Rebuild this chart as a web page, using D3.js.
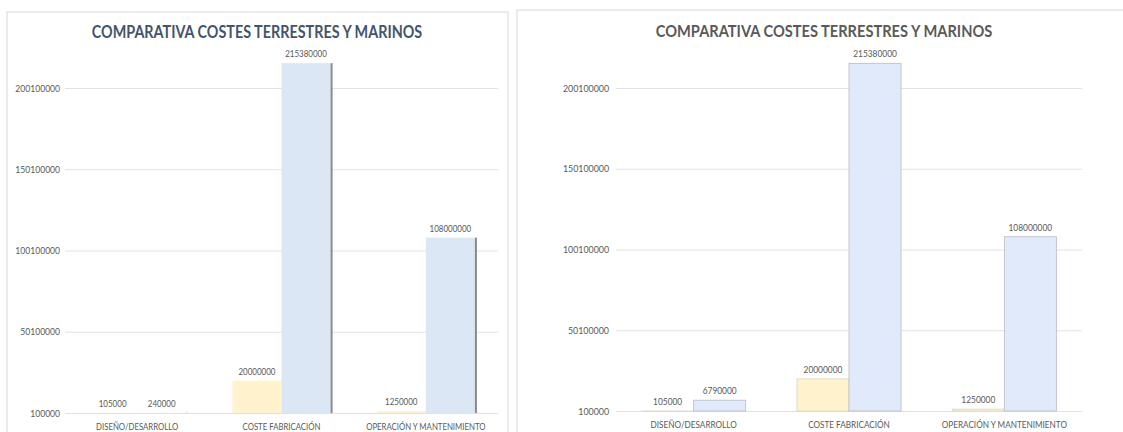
<!DOCTYPE html>
<html>
<head>
<meta charset="utf-8">
<script src="https://cdn.jsdelivr.net/npm/d3@7"></script>
<style>
  html, body { margin: 0; padding: 0; background: #ffffff; }
  svg { display: block; }
</style>
</head>
<body>
<svg id="chart" width="1123" height="432"></svg>
<script>
// Cost categories shared by both panels
const categories = ["DISEÑO/DESARROLLO", "COSTE FABRICACIÓN", "OPERACIÓN Y MANTENIMIENTO"];

// Left panel: land vs. offshore costs
const terrestresA = [105000, 20000000, 1250000];
const marinosA = [240000, 215380000, 108000000];

// Right panel: revised offshore design cost
const terrestresB = [105000, 20000000, 1250000];
const marinosB = [6790000, 215380000, 108000000];

// Y axis ticks (axis starts at 100000)
const yTicks = [100000, 50100000, 100100000, 150100000, 200100000];

const titleText = "COMPARATIVA COSTES TERRESTRES Y MARINOS";

const svg = d3.select("#chart");
const FONT = "Lato, 'Open Sans', sans-serif";

// narrow the glyphs of a text selection to get a condensed look
function condense(sel, f) {
  sel.each(function () {
    const len = this.getComputedTextLength();
    d3.select(this).attr("textLength", len * f).attr("lengthAdjust", "spacingAndGlyphs");
  });
}

function drawPanel(opt, terrestres, marinos) {
  const g = svg.append("g");

  // panel frame
  g.append("rect")
    .attr("x", opt.frame[0]).attr("y", opt.frame[1])
    .attr("width", opt.frame[2]).attr("height", opt.frame[3])
    .attr("fill", "#ffffff")
    .attr("stroke", "#e3e4ea").attr("stroke-width", 1.5);

  // title
  g.append("text")
    .attr("x", opt.titleX).attr("y", opt.titleY)
    .attr("text-anchor", "middle")
    .attr("font-family", FONT).attr("font-weight", 700)
    .attr("font-size", opt.titleSize)
    .attr("fill", opt.titleColor)
    .text(titleText)
    .call(condense, opt.titleCond);

  const y = d3.scaleLinear().domain([yTicks[0], yTicks[yTicks.length - 1]]).range(opt.yRange);
  const x0 = d3.scaleBand().domain(categories).range(opt.xRange)
    .paddingInner(opt.pad).paddingOuter(opt.pad / 2);
  const x1 = d3.scaleBand().domain(["t", "m"]).range([0, x0.bandwidth()]);

  // gridlines + tick labels
  const axis = d3.axisLeft(y).tickValues(yTicks).tickFormat(d3.format("d"))
    .tickSize(-(opt.xRange[1] - opt.xRange[0])).tickPadding(opt.tickPad);
  const ag = g.append("g").attr("transform", `translate(${opt.xRange[0]},0)`).call(axis);
  ag.select(".domain").remove();
  ag.selectAll(".tick line").attr("stroke", "#e2e2e6").attr("stroke-width", 1);
  ag.selectAll(".tick text").attr("font-family", FONT).attr("font-size", opt.tickSize)
    .attr("fill", "#595959").call(condense, opt.tickCond);

  const rows = categories.map((c, i) => ({ c, t: terrestres[i], m: marinos[i] }));
  const base = y(yTicks[0]);

  const grp = g.selectAll(".cat").data(rows).join("g")
    .attr("transform", d => `translate(${x0(d.c)},0)`);

  // land-cost bars
  grp.append("rect")
    .attr("x", x1("t")).attr("width", x1.bandwidth())
    .attr("y", d => y(d.t)).attr("height", d => base - y(d.t))
    .attr("fill", "#fff2cc")
    .attr("stroke", opt.edge ? "#d9d4c4" : "none").attr("stroke-width", 0.8);

  // offshore-cost bars
  grp.append("rect")
    .attr("x", x1("m")).attr("width", x1.bandwidth())
    .attr("y", d => y(d.m)).attr("height", d => base - y(d.m))
    .attr("fill", opt.blue)
    .attr("stroke", opt.edge ? "#b8bcc4" : "none").attr("stroke-width", 0.8);

  // dark edge on the right of offshore bars
  if (opt.shadow) {
    grp.append("rect")
      .attr("x", x1("m") + x1.bandwidth()).attr("width", 2)
      .attr("y", d => y(d.m)).attr("height", d => base - y(d.m))
      .attr("fill", "#8a8a8a");
  }

  // value labels
  grp.append("text")
    .attr("x", x1("t") + x1.bandwidth() / 2)
    .attr("y", d => y(d.t) - opt.labelGap)
    .attr("text-anchor", "middle")
    .attr("font-family", FONT).attr("font-size", opt.valueSize).attr("fill", "#595959")
    .text(d => d.t)
    .call(condense, opt.valueCond);
  grp.append("text")
    .attr("x", x1("m") + x1.bandwidth() / 2)
    .attr("y", d => y(d.m) - opt.labelGap)
    .attr("text-anchor", "middle")
    .attr("font-family", FONT).attr("font-size", opt.valueSize).attr("fill", "#595959")
    .text(d => d.m)
    .call(condense, opt.valueCond);

  // category labels
  g.selectAll(".catlabel").data(categories).join("text")
    .attr("x", d => x0(d) + x0.bandwidth() / 2)
    .attr("y", opt.catY)
    .attr("text-anchor", "middle")
    .attr("font-family", FONT).attr("font-size", opt.catSize).attr("fill", "#595959")
    .text(d => d)
    .call(condense, opt.catCond);
}

drawPanel({
  frame: [7, 12, 501, 440],
  titleX: 257, titleY: 38, titleSize: 16.5, titleColor: "#44546a", titleCond: 0.87,
  yRange: [413, 88], xRange: [65, 498], pad: 0.32, tickPad: 5,
  tickSize: 9.5, tickCond: 0.9, valueSize: 9.5, valueCond: 0.84,
  catSize: 9.5, catCond: 0.82, catY: 430, labelGap: 6,
  blue: "#dbe7f5", shadow: true, edge: false
}, terrestresA, marinosA);

drawPanel({
  frame: [517, 10, 620, 440],
  titleX: 824, titleY: 37, titleSize: 17, titleColor: "#595959", titleCond: 0.86,
  yRange: [411, 88], xRange: [616, 1082], pad: 0.33, tickPad: 7,
  tickSize: 9.5, tickCond: 0.93, valueSize: 9.5, valueCond: 0.88,
  catSize: 9.5, catCond: 0.86, catY: 428, labelGap: 6,
  blue: "#e1eafb", shadow: false, edge: true
}, terrestresB, marinosB);
</script>
</body>
</html>
